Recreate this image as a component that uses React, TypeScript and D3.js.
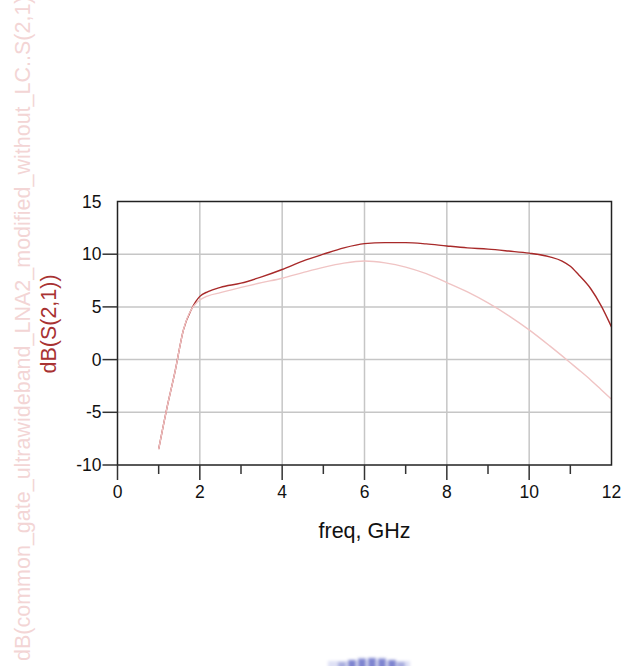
import React from "react";
import * as d3 from "d3";

const freq = [1.0, 1.2, 1.4, 1.6, 1.8, 1.9, 2.0, 2.2, 2.5, 3.0, 3.5, 4.0, 4.5, 5.0, 5.5, 6.0, 6.5, 7.0, 7.5, 8.0, 8.5, 9.0, 9.5, 10.0, 10.5, 10.8, 11.0, 11.2, 11.5, 11.75, 12.0];
const s21 = [-8.5, -4.6, -1.1, 2.8, 4.8, 5.5, 6.0, 6.45, 6.85, 7.25, 7.85, 8.55, 9.35, 10.0, 10.6, 11.0, 11.1, 11.1, 10.98, 10.78, 10.6, 10.48, 10.3, 10.1, 9.75, 9.35, 8.85, 8.05, 6.7, 5.1, 3.1];
const s21WithoutLC = [-8.5, -4.6, -1.1, 2.8, 4.8, 5.3, 5.65, 6.05, 6.35, 6.85, 7.3, 7.72, 8.25, 8.75, 9.15, 9.35, 9.18, 8.78, 8.15, 7.31, 6.42, 5.38, 4.18, 2.82, 1.3, 0.35, -0.3, -0.95, -1.95, -2.85, -3.77];

const xMajorTicks = [0, 2, 4, 6, 8, 10, 12];
const xMinorTicks = [1, 3, 5, 7, 9, 11];
const yTicks = [-10, -5, 0, 5, 10, 15];
const xTitle = "freq, GHz";
const yTitle = "dB(S(2,1))";
const yTitleFaded = "dB(common_gate_ultrawideband_LNA2_modified_without_LC..S(2,1)";

const W = 624;
const H = 666;
const FONT = "Arial, 'Liberation Sans', sans-serif";

export default function App() {
  const x = d3.scaleLinear().domain([0, 12]).range([117.5, 611.5]);
  const y = d3.scaleLinear().domain([-10, 15]).range([465, 201.5]);

  const line = (vals: number[]) =>
    d3
      .line<number>()
      .x((_, i) => x(freq[i]))
      .y((d) => y(d))
      .curve(d3.curveMonotoneX)(vals) || "";

  const blobX = [342, 352, 362, 372, 382, 392, 401];
  const blobTop = [662, 660, 658.5, 658, 658.5, 660, 662];

  return (
    <div style={{ position: "absolute", left: 0, top: 0 }}>
      <svg width={W} height={H} style={{ display: "block", background: "#fff" }}>
        <defs>
          <filter id="blur" x="-50%" y="-50%" width="200%" height="200%">
            <feGaussianBlur stdDeviation="1.6" />
          </filter>
          <clipPath id="plotclip">
            <rect x={x(0)} y={y(15)} width={x(12) - x(0)} height={y(-10) - y(15)} />
          </clipPath>
        </defs>

        {/* gridlines */}
        {xMajorTicks.filter((t) => t > 0 && t < 12).map((t) => (
          <line key={"gx" + t} x1={x(t)} x2={x(t)} y1={y(15)} y2={y(-10)} stroke="#c6c6c6" strokeWidth={1.5} />
        ))}
        {yTicks.filter((t) => t > -10 && t < 15).map((t) => (
          <line key={"gy" + t} x1={x(0)} x2={x(12)} y1={y(t)} y2={y(t)} stroke="#c6c6c6" strokeWidth={1.5} />
        ))}

        {/* series */}
        <g clipPath="url(#plotclip)">
          <path d={line(s21)} fill="none" stroke="#a82a2a" strokeWidth={1.4} />
          <path d={line(s21WithoutLC)} fill="none" stroke="#f0c4c4" strokeWidth={1.4} />
        </g>

        {/* frame */}
        <rect x={x(0)} y={y(15)} width={x(12) - x(0)} height={y(-10) - y(15)} fill="none" stroke="#222" strokeWidth={1.5} />

        {/* y ticks */}
        {yTicks.filter((t) => t < 15).map((t) => (
          <line key={"yt" + t} x1={x(0) - 15} x2={x(0)} y1={y(t)} y2={y(t)} stroke="#333" strokeWidth={1.5} />
        ))}
        {yTicks.map((t) => (
          <text key={"yl" + t} x={x(0) - 16} y={y(t)} dy="0.35em" textAnchor="end" fontFamily={FONT} fontSize={17.5} fill="#111">
            {t}
          </text>
        ))}

        {/* x ticks */}
        {xMajorTicks.filter((t) => t < 12).map((t) => (
          <line key={"xt" + t} x1={x(t)} x2={x(t)} y1={y(-10)} y2={y(-10) + 15} stroke="#333" strokeWidth={1.5} />
        ))}
        {xMinorTicks.map((t) => (
          <line key={"xm" + t} x1={x(t)} x2={x(t)} y1={y(-10)} y2={y(-10) + 9} stroke="#333" strokeWidth={1.5} />
        ))}
        {xMajorTicks.map((t) => (
          <text key={"xl" + t} x={x(t)} y={498} textAnchor="middle" fontFamily={FONT} fontSize={17.5} fill="#111">
            {t}
          </text>
        ))}

        {/* titles */}
        <text x={(x(0) + x(12)) / 2} y={538} textAnchor="middle" fontFamily={FONT} fontSize={21.5} fill="#111">
          {xTitle}
        </text>
        <text transform="translate(56,324) rotate(-90)" textAnchor="middle" fontFamily={FONT} fontSize={21.5} fill="#a83232">
          {yTitle}
        </text>
        <text transform="translate(30,661) rotate(-90)" textAnchor="start" fontFamily={FONT} fontSize={21.5} fill="#f3d5d5">
          {yTitleFaded}
        </text>

        {/* faint logo fragment at bottom */}
        <g filter="url(#blur)">
          <rect x={328} y={661} width={82} height={8} fill="#dfe1f5" />
          {blobX.map((bx, i) => (
            <rect key={"b" + i} x={bx - 4} y={blobTop[i]} width={8} height={12} fill={i === 0 || i === 6 ? "#a9addf" : "#7f85d0"} />
          ))}
        </g>
      </svg>
    </div>
  );
}
